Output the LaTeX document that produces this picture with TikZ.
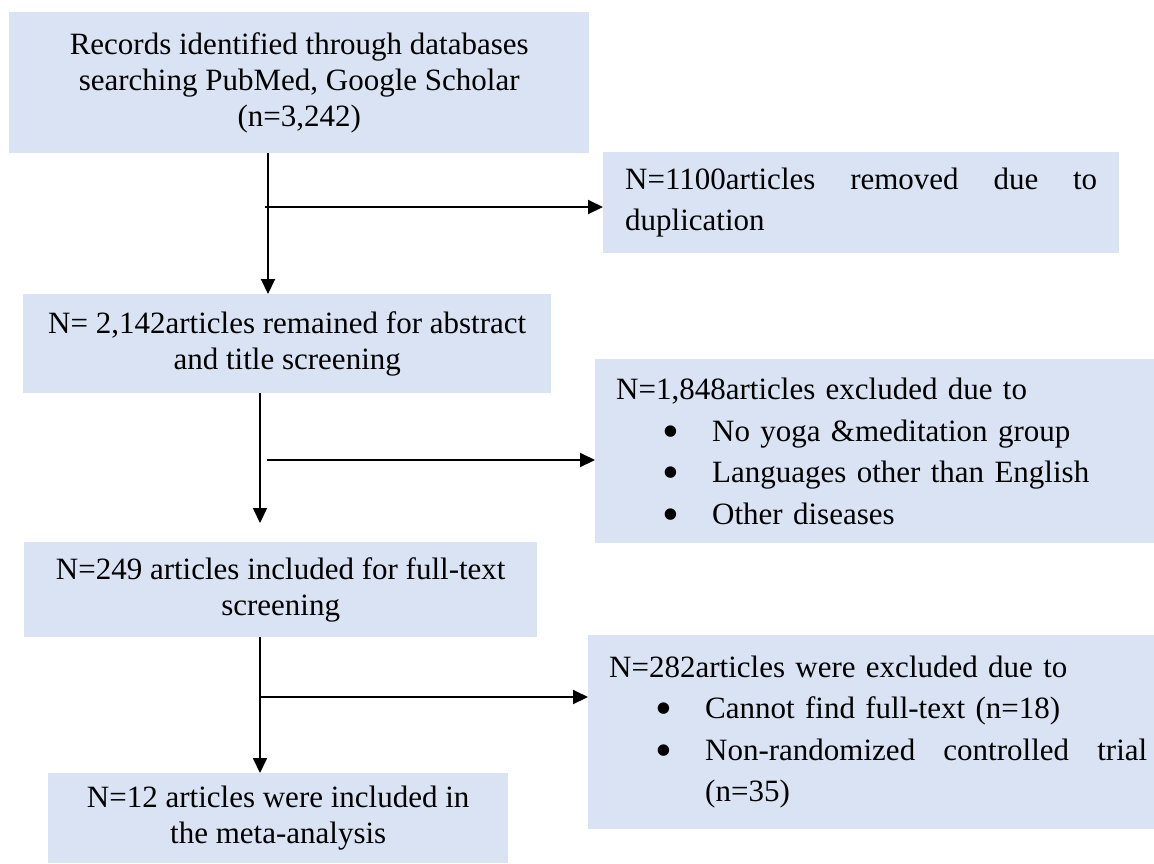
\documentclass[tikz,border=0pt]{standalone}
\usepackage{fontspec}
\setmainfont{Liberation Serif}
\usetikzlibrary{arrows.meta}
\definecolor{boxfill}{RGB}{218,227,243}
\tikzset{
  box/.style={fill=boxfill, draw=none, inner sep=0pt, anchor=north west,
    font=\fontsize{31}{36}\selectfont, align=center},
  sidebox/.style={fill=boxfill, draw=none, inner sep=0pt, anchor=north west,
    font=\fontsize{31}{41.5}\selectfont, align=left},
  arr/.style={line width=2pt, -{Triangle[length=15pt,width=14pt]}},
}
\newcommand{\bulitem}[1]{\hspace*{46pt}\makebox[50pt][l]{\smash{\raisebox{-6pt}{\scalebox{1.55}{\textbullet}}}}#1}
\begin{document}
\begin{tikzpicture}[x=1pt,y=-1pt]
\useasboundingbox (0,0) rectangle (1154,863);
% left column
\node[box, minimum width=580pt, minimum height=141pt] (b1) at (9,12)
  {Records identified through databases\\searching PubMed, Google Scholar\\(n=3,242)};
\node[box, minimum width=528pt, minimum height=99pt] (b2) at (23,294)
  {N= 2,142articles remained for abstract\\and title screening};
\node[box, minimum width=513pt, minimum height=95pt] (b3) at (24,542)
  {N=249 articles included for full-text\\screening};
\node[box, minimum width=460pt, minimum height=90pt] (b4) at (48,773)
  {N=12 articles were included in\\the meta-analysis};
% right column
\node[sidebox, minimum width=516pt, minimum height=101pt, text width=472pt] (r1) at (603,152)
  {\makebox[472pt][l]{N=1100articles\hfill removed\hfill due\hfill to}\\duplication};
\node[sidebox, minimum width=559pt, minimum height=184pt, text width=517pt] (r2) at (595,359)
  {N=1,848articles excluded due to\\
   \bulitem{No yoga \&meditation group}\\
   \bulitem{Languages other than English}\\
   \bulitem{Other diseases}};
\node[sidebox, minimum width=566pt, minimum height=194pt, text width=524pt] (r3) at (588,635)
  {N=282articles were excluded due to\\
   \bulitem{Cannot find full-text (n=18)}\\
   \bulitem{\rlap{\makebox[442pt][l]{Non-randomized\hfill controlled\hfill trial}}}\\
   \hspace*{96pt}(n=35)};
% connector helper coordinates
\coordinate (v1) at (268,0);
\coordinate (j1) at (265,207);
\coordinate (v2) at (260,0);
\coordinate (e2) at (260,523);
\coordinate (j2) at (267,460);
\coordinate (j3) at (260,697);
% connectors
\draw[arr] (b1.south -| v1) -- (b2.north -| v1);
\draw[arr] (j1) -- (j1 -| r1.west);
\draw[arr] (b2.south -| v2) -- (e2);
\draw[arr] (j2) -- (j2 -| r2.west);
\draw[arr] (b3.south -| v2) -- (b4.north -| v2);
\draw[arr] (j3) -- (j3 -| r3.west);
\end{tikzpicture}
\end{document}
